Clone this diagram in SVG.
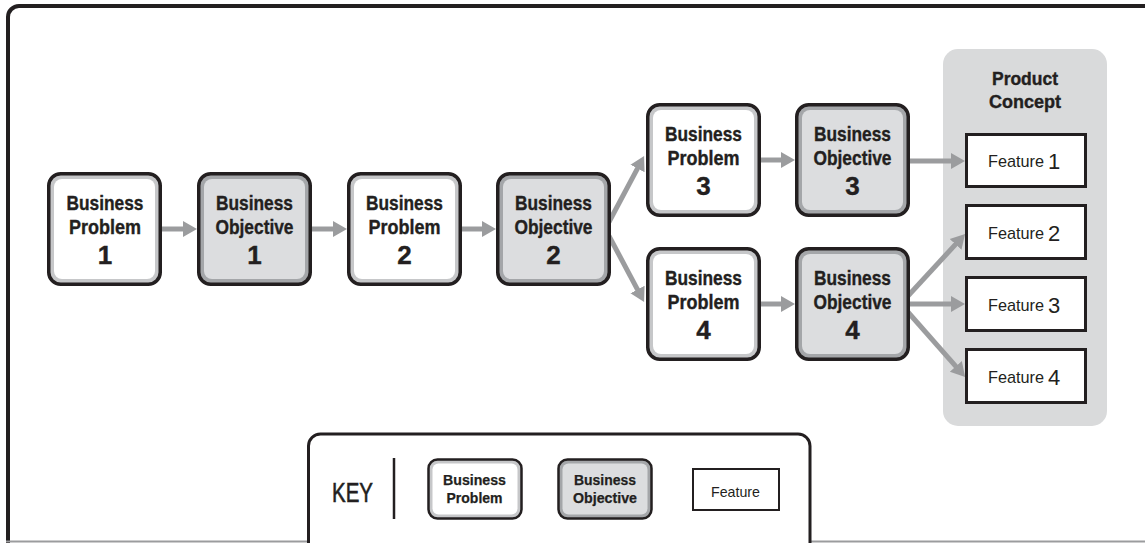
<svg xmlns="http://www.w3.org/2000/svg" width="1145" height="543" viewBox="0 0 1145 543">
<style>
.frame{fill:none;stroke:#231f20;stroke-width:4}
.outer{stroke:#231f20;stroke-width:3.5}
.bp .outer{fill:#c6c7c9}
.bp .inner{fill:#ffffff}
.bo .outer{fill:#a4a6a9}
.bo .inner{fill:#dcdddf}
.t{font-family:"Liberation Sans",Arial,sans-serif;font-weight:bold;fill:#231f20;text-anchor:middle;stroke:#231f20;stroke-width:0.4}
.big{font-size:21px}
.num{font-size:26px}
.small{font-size:14.5px;stroke-width:0.25}
.feat rect{fill:#fff;stroke:#231f20;stroke-width:3}
.ft{font-family:"Liberation Sans",Arial,sans-serif;fill:#231f20;font-size:17px}
.fn{font-size:22px}
.conn line{stroke:#9b9c9e;stroke-width:5}
</style>
<defs>
<marker id="ah" markerUnits="userSpaceOnUse" markerWidth="16" markerHeight="18" refX="4" refY="8" orient="auto" viewBox="0 0 16 16">
<path d="M0,0 L14,8 L0,16 z" fill="#9b9c9e"/>
</marker>
</defs>
<rect width="1145" height="543" fill="#fff"/>
<path class="frame" d="M1150,6 H19 A11,11 0 0 0 8,17 V545"/>
<line x1="6" y1="541.5" x2="1145" y2="541.5" stroke="#9b9c9e" stroke-width="2"/>

<g id="product-concept">
<rect x="943" y="49" width="164" height="377" rx="15" fill="#d9dadb"/>
<text class="t" x="1025" y="85" font-size="18.5" textLength="66" lengthAdjust="spacingAndGlyphs">Product</text>
<text class="t" x="1025" y="108" font-size="18.5" textLength="72" lengthAdjust="spacingAndGlyphs">Concept</text>
</g>

<g id="connectors" class="conn">
<line x1="160" y1="229" x2="187" y2="229" marker-end="url(#ah)"/>
<line x1="310" y1="229" x2="337" y2="229" marker-end="url(#ah)"/>
<line x1="459" y1="229" x2="486" y2="229" marker-end="url(#ah)"/>
<line x1="609" y1="222" x2="639.4" y2="164.9" marker-end="url(#ah)"/>
<line x1="609" y1="236" x2="639.4" y2="293.1" marker-end="url(#ah)"/>
<line x1="758" y1="160" x2="785" y2="160" marker-end="url(#ah)"/>
<line x1="758" y1="304" x2="785" y2="304" marker-end="url(#ah)"/>
<line x1="907" y1="161" x2="955" y2="161" marker-end="url(#ah)"/>
<line x1="907" y1="297" x2="958.3" y2="241.4" marker-end="url(#ah)"/>
<line x1="907" y1="304" x2="955" y2="304" marker-end="url(#ah)"/>
<line x1="907" y1="311" x2="958.5" y2="369.4" marker-end="url(#ah)"/>
</g>

<g id="bp1" class="bp">
<rect class="outer" x="48.75" y="173.75" width="111.5" height="110.5" rx="12"/>
<rect class="inner" x="54" y="179" width="101" height="100" rx="8"/>
<text class="t big" x="105" y="210" textLength="77" lengthAdjust="spacingAndGlyphs">Business</text>
<text class="t big" x="105" y="234" textLength="72" lengthAdjust="spacingAndGlyphs">Problem</text>
<text class="t num" x="105" y="264">1</text>
</g>
<g id="bo1" class="bo">
<rect class="outer" x="198.75" y="173.75" width="111.5" height="110.5" rx="12"/>
<rect class="inner" x="204" y="179" width="101" height="100" rx="8"/>
<text class="t big" x="254.5" y="210" textLength="77" lengthAdjust="spacingAndGlyphs">Business</text>
<text class="t big" x="254.5" y="234" textLength="78" lengthAdjust="spacingAndGlyphs">Objective</text>
<text class="t num" x="254.5" y="264">1</text>
</g>
<g id="bp2" class="bp">
<rect class="outer" x="348.75" y="173.75" width="111.5" height="110.5" rx="12"/>
<rect class="inner" x="354" y="179" width="101" height="100" rx="8"/>
<text class="t big" x="404.5" y="210" textLength="77" lengthAdjust="spacingAndGlyphs">Business</text>
<text class="t big" x="404.5" y="234" textLength="72" lengthAdjust="spacingAndGlyphs">Problem</text>
<text class="t num" x="404.5" y="264">2</text>
</g>
<g id="bo2" class="bo">
<rect class="outer" x="497.75" y="173.75" width="111.5" height="110.5" rx="12"/>
<rect class="inner" x="503" y="179" width="101" height="100" rx="8"/>
<text class="t big" x="553.5" y="210" textLength="77" lengthAdjust="spacingAndGlyphs">Business</text>
<text class="t big" x="553.5" y="234" textLength="78" lengthAdjust="spacingAndGlyphs">Objective</text>
<text class="t num" x="553.5" y="264">2</text>
</g>
<g id="bp3" class="bp">
<rect class="outer" x="647.75" y="104.75" width="111.5" height="110.5" rx="12"/>
<rect class="inner" x="653" y="110" width="101" height="100" rx="8"/>
<text class="t big" x="703.5" y="141" textLength="77" lengthAdjust="spacingAndGlyphs">Business</text>
<text class="t big" x="703.5" y="165" textLength="72" lengthAdjust="spacingAndGlyphs">Problem</text>
<text class="t num" x="703.5" y="195">3</text>
</g>
<g id="bo3" class="bo">
<rect class="outer" x="796.75" y="104.75" width="111.5" height="110.5" rx="12"/>
<rect class="inner" x="802" y="110" width="101" height="100" rx="8"/>
<text class="t big" x="852.5" y="141" textLength="77" lengthAdjust="spacingAndGlyphs">Business</text>
<text class="t big" x="852.5" y="165" textLength="78" lengthAdjust="spacingAndGlyphs">Objective</text>
<text class="t num" x="852.5" y="195">3</text>
</g>
<g id="bp4" class="bp">
<rect class="outer" x="647.75" y="248.75" width="111.5" height="110.5" rx="12"/>
<rect class="inner" x="653" y="254" width="101" height="100" rx="8"/>
<text class="t big" x="703.5" y="285" textLength="77" lengthAdjust="spacingAndGlyphs">Business</text>
<text class="t big" x="703.5" y="309" textLength="72" lengthAdjust="spacingAndGlyphs">Problem</text>
<text class="t num" x="703.5" y="339">4</text>
</g>
<g id="bo4" class="bo">
<rect class="outer" x="796.75" y="248.75" width="111.5" height="110.5" rx="12"/>
<rect class="inner" x="802" y="254" width="101" height="100" rx="8"/>
<text class="t big" x="852.5" y="285" textLength="77" lengthAdjust="spacingAndGlyphs">Business</text>
<text class="t big" x="852.5" y="309" textLength="78" lengthAdjust="spacingAndGlyphs">Objective</text>
<text class="t num" x="852.5" y="339">4</text>
</g>

<g id="feature1" class="feat">
<rect x="966.5" y="134.5" width="119" height="52"/>
<text class="ft" x="988" y="167" textLength="56" lengthAdjust="spacingAndGlyphs">Feature</text>
<text class="ft fn" x="1048" y="169">1</text>
</g>
<g id="feature2" class="feat">
<rect x="966.5" y="205.5" width="119" height="53"/>
<text class="ft" x="988" y="239" textLength="56" lengthAdjust="spacingAndGlyphs">Feature</text>
<text class="ft fn" x="1048" y="241">2</text>
</g>
<g id="feature3" class="feat">
<rect x="966.5" y="277.5" width="119" height="53"/>
<text class="ft" x="988" y="311" textLength="56" lengthAdjust="spacingAndGlyphs">Feature</text>
<text class="ft fn" x="1048" y="313">3</text>
</g>
<g id="feature4" class="feat">
<rect x="966.5" y="349.5" width="119" height="53"/>
<text class="ft" x="988" y="383" textLength="56" lengthAdjust="spacingAndGlyphs">Feature</text>
<text class="ft fn" x="1048" y="385">4</text>
</g>

<g id="key">
<path d="M308.5,543 V446 A12,12 0 0 1 320.5,434 H798 A12,12 0 0 1 810,446 V543" fill="#fff" stroke="#231f20" stroke-width="3"/>
<text x="332" y="502" font-family="Liberation Sans, Arial, sans-serif" font-size="28" fill="#231f20" stroke="#231f20" stroke-width="0.6" textLength="41" lengthAdjust="spacingAndGlyphs">KEY</text>
<line x1="394" y1="458" x2="394" y2="519" stroke="#231f20" stroke-width="2.5"/>
<g id="key-bp" class="bp">
<rect class="outer" x="428.5" y="459.5" width="93" height="59" rx="9" style="stroke-width:2.5"/>
<rect x="432.5" y="463.5" width="85" height="51" rx="6" class="inner"/>
<text class="t small" x="474.5" y="485" textLength="63" lengthAdjust="spacingAndGlyphs">Business</text>
<text class="t small" x="474.5" y="503" textLength="56" lengthAdjust="spacingAndGlyphs">Problem</text>
</g>
<g id="key-bo" class="bo">
<rect class="outer" x="558.5" y="459.5" width="93" height="59" rx="9" style="stroke-width:2.5"/>
<rect x="562.5" y="463.5" width="85" height="51" rx="6" class="inner"/>
<text class="t small" x="605" y="485" textLength="62" lengthAdjust="spacingAndGlyphs">Business</text>
<text class="t small" x="605" y="503" textLength="64" lengthAdjust="spacingAndGlyphs">Objective</text>
</g>
<g id="key-feature">
<rect x="693" y="469" width="86" height="41" fill="#fff" stroke="#231f20" stroke-width="2"/>
<text x="735.5" y="497" font-family="Liberation Sans, Arial, sans-serif" font-size="15" fill="#231f20" text-anchor="middle" textLength="49" lengthAdjust="spacingAndGlyphs">Feature</text>
</g>
</g>
</svg>
